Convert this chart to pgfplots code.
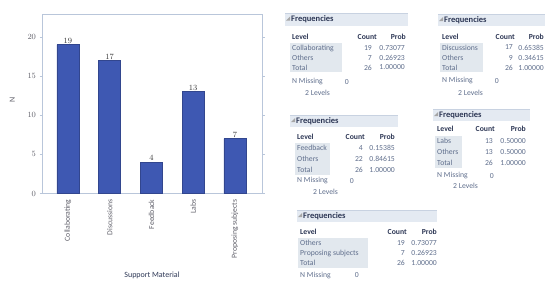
\documentclass[border=0pt]{standalone}
\usepackage{pgfplots}
\pgfplotsset{compat=1.18}
\usepackage{fontspec}
\setmainfont{Carlito}
\definecolor{barblue}{RGB}{62,88,178}
\definecolor{frame}{RGB}{185,198,218}
\definecolor{hdrfill}{RGB}{228,234,242}
\definecolor{hdrline}{RGB}{200,210,225}
\definecolor{lvlshade}{RGB}{226,232,238}
\definecolor{rowtxt}{RGB}{95,110,140}
\definecolor{headtxt}{RGB}{45,55,85}
\definecolor{ticktxt}{RGB}{95,95,105}
\newcommand\tf{\fontsize{7.7bp}{8.5bp}\selectfont}
\newcommand\hf{\fontsize{8.5bp}{9bp}\selectfont\bfseries}
% header bar: x, ycenter, width
\newcommand\fhead[3]{%
  \fill[hdrfill] (#1,#2-6) rectangle ++(#3,12);
  \draw[hdrline,line width=0.5bp] (#1,#2-6) -- ++(#3,0);
  \fill[gray!70] (#1+1,#2+1) -- ++(4,0) -- ++(0,-4) -- cycle;
  \node[anchor=west,inner sep=0,text=headtxt,font=\hf] at (#1+6,#2) {Frequencies};}
% heading row: xlevel, y, count right, prob right
\newcommand\fcols[4]{%
  \node[anchor=west,inner sep=0,text=headtxt,font=\tf\bfseries] at (#1,#2) {Level};
  \node[anchor=east,inner sep=0,text=headtxt,font=\tf\bfseries] at (#3,#2) {Count};
  \node[anchor=east,inner sep=0,text=headtxt,font=\tf\bfseries] at (#4,#2) {Prob};}
% data row: xlevel, y, count right, prob right, level, count, prob
\newcommand\frow[7]{%
  \node[anchor=west,inner sep=0,text=rowtxt,font=\tf] at (#1,#2) {#5};
  \node[anchor=east,inner sep=0,text=rowtxt,font=\tf] at (#3,#2) {#6};
  \node[anchor=east,inner sep=0,text=rowtxt,font=\tf] at (#4,#2) {#7};}
% shade: x1, y1, x2, y2
\newcommand\fshade[4]{\fill[lvlshade] (#1,#2) rectangle (#3,#4);}
% N missing: x, y, xzero
\newcommand\fmiss[3]{%
  \node[anchor=west,inner sep=0,text=rowtxt,font=\tf] at (#1,#2) {N Missing};
  \node[anchor=east,inner sep=0,text=rowtxt,font=\tf] at (#3,#2) {0};}
\newcommand\flev[2]{\node[anchor=west,inner sep=0,text=rowtxt,font=\tf] at (#1,#2) {2 Levels};}

\begin{document}
\begin{tikzpicture}[x=1bp,y=1bp]
\useasboundingbox (0,0) rectangle (545,281);
\begin{axis}[
  at={(42bp,87.5bp)}, anchor=south west,
  scale only axis, width=220bp, height=179.5bp,
  ymin=0, ymax=22.9, xmin=-0.62, xmax=4.65,
  ybar, bar width=22bp,
  xtick={0,1,2,3,4},
  xticklabels={Collaborating,Discussions,Feedback,Labs,Proposing subjects},
  x tick label style={rotate=90, anchor=east, font=\tf, text=ticktxt},
  ytick={0,5,10,15,20},
  y tick label style={font=\tf, text=ticktxt},
  major tick length=2.5bp,
  xtick style={draw=none},
  ytick style={draw=frame},
  tick align=outside,
  axis line style={draw=frame, line width=0.8bp},
  ylabel={N}, xlabel={Support Material},
  every axis y label/.style={at={(axis description cs:-0.135,0.52)}, rotate=90, anchor=center, font=\fontsize{8bp}{9bp}\selectfont, text=ticktxt},
  every axis x label/.style={at={(axis description cs:0.5,0)}, yshift=-81.5bp, anchor=center, font=\fontsize{8bp}{9bp}\selectfont, text=headtxt},
  nodes near coords,
  every node near coord/.append style={font=\fontsize{8bp}{9bp}\selectfont, text=black!80, inner sep=1bp},
]
\addplot[fill=barblue, draw=barblue!80!black] coordinates {(0,19) (1,17) (2,4) (3,13) (4,7)};
\end{axis}

\begin{scope}[shift={(0,281)}, yscale=-1]
% Table 1
\fhead{285}{19.5}{123}
\fshade{290}{43}{342}{72}
\fcols{292}{37}{377}{406}
\frow{292}{48}{372}{405}{Collaborating}{19}{0.73077}
\frow{292}{58}{372}{405}{Others}{7}{0.26923}
\frow{292}{67.5}{372}{405}{Total}{26}{1.00000}
\fmiss{292}{82}{349}
\flev{305}{93}
% Table 2
\fhead{438}{20}{107}
\fshade{440}{43}{483}{72}
\fcols{442}{37}{515}{544}
\frow{442}{47.5}{513}{544}{Discussions}{17}{0.65385}
\frow{442}{58}{513}{544}{Others}{9}{0.34615}
\frow{442}{68}{513}{544}{Total}{26}{1.00000}
\fmiss{442}{81}{499}
\flev{458}{93}
% Table 3
\fhead{290}{121}{108}
\fshade{295}{143}{330}{175}
\fcols{297}{137}{365}{395}
\frow{297}{148}{363}{395}{Feedback}{4}{0.15385}
\frow{297}{159}{363}{395}{Others}{22}{0.84615}
\frow{297}{170}{363}{395}{Total}{26}{1.00000}
\fmiss{297}{181}{354}
\flev{313}{192}
% Table 4
\fhead{433}{115}{97}
\fshade{435}{136}{462}{168}
\fcols{437}{129}{495}{526}
\frow{437}{141}{493}{526}{Labs}{13}{0.50000}
\frow{437}{152}{493}{526}{Others}{13}{0.50000}
\frow{437}{163}{493}{526}{Total}{26}{1.00000}
\fmiss{437}{176}{494}
\flev{453}{186}
% Table 5
\fhead{297}{216}{140}
\fshade{298}{238}{368}{268}
\fcols{300}{232}{407}{437}
\frow{300}{243}{405}{437}{Others}{19}{0.73077}
\frow{300}{253}{405}{437}{Proposing subjects}{7}{0.26923}
\frow{300}{263}{405}{437}{Total}{26}{1.00000}
\fmiss{300}{275.5}{359}
\end{scope}
\end{tikzpicture}
\end{document}
